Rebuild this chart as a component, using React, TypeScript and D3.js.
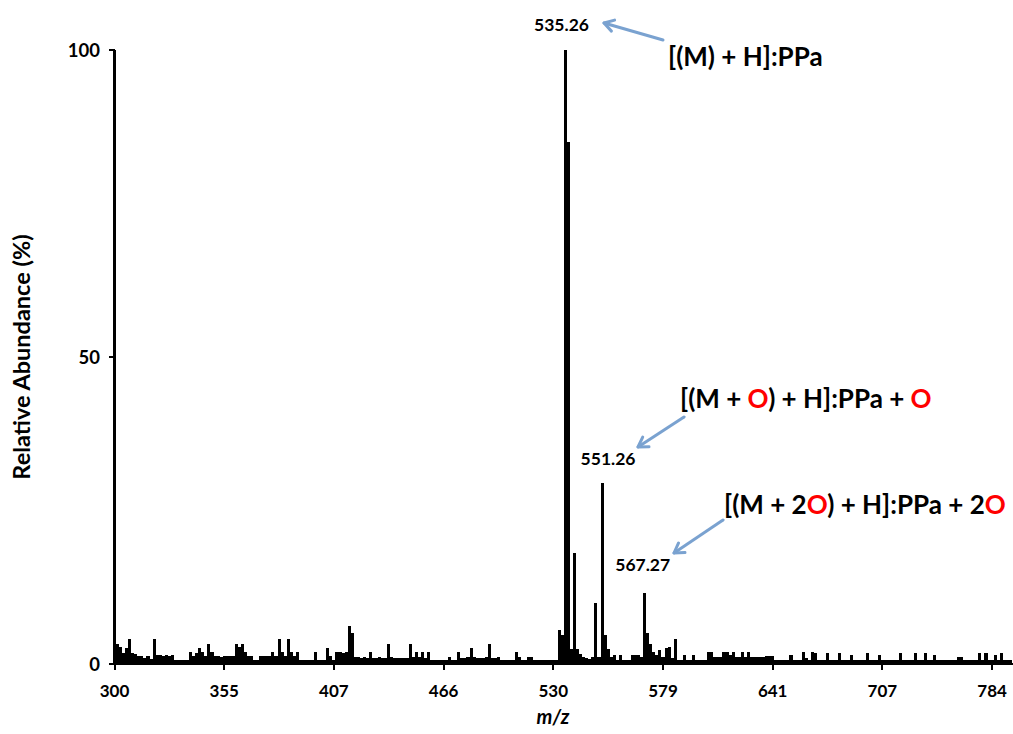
import React from 'react';
import * as d3 from 'd3';

// Relative abundance (%) per category (m/z channel)
const abundance: number[] = [
  100, 3.3, 2.8, 1.8, 2.6, 4.0, 1.8, 1.6, 1.3, 1.3,
  1.0, 1.3, 0.8, 4.0, 1.4, 1.4, 1.3, 1.4, 1.3, 1.4,
  0.6, 0.6, 0.6, 0.6, 0.6, 2.0, 1.3, 1.8, 2.6, 2.0,
  1.3, 3.3, 2.0, 1.3, 1.3, 1.1, 1.3, 1.3, 1.3, 1.3,
  3.3, 2.8, 3.3, 2.0, 1.3, 1.3, 0.6, 0.6, 1.3, 1.3,
  1.3, 1.3, 2.0, 1.3, 4.0, 2.0, 1.3, 4.0, 2.0, 1.3,
  2.0, 0.6, 0.6, 0.6, 0.6, 0.6, 2.0, 0.6, 0.6, 0.6,
  2.6, 1.3, 0.6, 2.0, 2.0, 1.8, 2.0, 6.2, 5.0, 1.2,
  1.2, 1.0, 1.2, 1.0, 2.0, 1.0, 1.0, 1.2, 1.0, 1.0,
  3.3, 1.2, 1.0, 1.0, 1.0, 1.0, 1.0, 3.3, 1.2, 2.0,
  1.2, 2.0, 1.0, 2.0, 0.6, 0.6, 0.6, 0.6, 0.6, 0.6,
  1.2, 0.6, 0.6, 2.0, 1.0, 1.0, 1.2, 2.6, 1.2, 1.0,
  1.0, 1.0, 1.2, 3.3, 1.0, 1.0, 1.2, 0.6, 0.6, 0.6,
  0.6, 0.6, 2.0, 1.2, 0.6, 0.6, 1.2, 1.2, 0.6, 0.6,
  0.6, 0.6, 0.6, 0.6, 0.6, 0.6, 5.5, 4.7, 100, 85,
  2.5, 18, 2.4, 1.7, 1.1, 1.0, 0.8, 1.2, 10, 1.2,
  29.5, 4.7, 2.5, 1.1, 1.5, 0.6, 1.5, 0.6, 0.6, 0.6,
  1.5, 1.5, 1.5, 1.2, 11.5, 5.0, 3.2, 2.0, 1.5, 2.2,
  1.1, 2.6, 2.8, 1.0, 4.1, 0.7, 0.6, 1.5, 0.6, 0.6,
  1.5, 0.6, 0.6, 0.6, 0.6, 2.0, 2.0, 1.1, 1.1, 1.1,
  2.0, 2.0, 1.5, 2.0, 1.1, 1.1, 2.0, 1.1, 2.0, 1.1,
  1.1, 1.1, 1.1, 1.1, 1.3, 1.3, 1.3, 0.6, 0.6, 0.6,
  0.6, 0.6, 1.5, 0.6, 0.6, 0.6, 2.0, 1.0, 0.6, 2.0,
  1.8, 0.6, 0.6, 0.6, 1.8, 0.6, 0.6, 0.6, 1.8, 0.6,
  0.6, 0.6, 1.5, 0.6, 0.6, 0.6, 0.6, 1.8, 0.6, 0.6,
  0.6, 1.5, 0.6, 0.6, 0.6, 0.6, 0.6, 0.6, 1.8, 0.6,
  0.6, 0.6, 0.6, 1.8, 0.6, 0.6, 1.8, 0.6, 0.6, 1.5,
  0.6, 0.6, 0.6, 0.6, 0.6, 0.6, 0.6, 1.2, 1.2, 0.6,
  0.6, 0.6, 0.6, 0.6, 1.8, 0.6, 1.8, 0.6, 0.6, 1.5,
  0.6, 1.8, 0.6, 0.6, 0.6,
];

// m/z tick labels, one every `categoriesPerTick` categories
const tickLabels: string[] = ['300', '355', '407', '466', '530', '579', '641', '707', '784'];
const categoriesPerTick = 36;

const yTicks: number[] = [0, 50, 100];

// Peak annotations (category index of the labelled peak)
const peakText: string[] = ['535.26', '551.26', '567.27'];
const peakIndex: number[] = [148, 160, 174];

const W = 1013;
const H = 734;
const FONT = 'Lato, "Open Sans", "DejaVu Sans", sans-serif';

export default function App() {
  const step = 109.7 / categoriesPerTick;
  const x0 = 114.5;
  const x = d3
    .scaleBand<number>()
    .domain(d3.range(abundance.length))
    .range([x0 - step / 2, x0 - step / 2 + step * abundance.length])
    .paddingInner(0)
    .paddingOuter(0);
  const y = d3.scaleLinear().domain([0, 100]).range([664, 50]);
  const bw = x.bandwidth();
  const cx = (i: number) => (x(i) as number) + bw / 2;

  const arrowColor = '#7AA2D0';
  const arrows: [number, number, number, number][] = [
    [663, 40, 604, 23],
    [684, 417, 638, 447],
    [723, 520, 674, 553],
  ];
  const head = (x1: number, y1: number, x2: number, y2: number) => {
    const a = Math.atan2(y2 - y1, x2 - x1);
    const L = 11;
    const s = 0.55;
    const p1 = [x2 - L * Math.cos(a - s), y2 - L * Math.sin(a - s)];
    const p2 = [x2 - L * Math.cos(a + s), y2 - L * Math.sin(a + s)];
    return `M${p1[0]},${p1[1]} L${x2},${y2} L${p2[0]},${p2[1]}`;
  };

  const peakDx = [-4, 6, -2];
  const peakDy = [-19, -18, -22];

  return (
    <svg
      width={W}
      height={H}
      style={{ position: 'absolute', left: 0, top: 0, background: '#fff' }}
      fontFamily={FONT}
    >
      <rect width={W} height={H} fill="#fff" />
      {/* bars */}
      <g shapeRendering="crispEdges">
        {abundance.map((v, i) => (
          <rect key={i} x={x(i)} y={y(v)} width={bw} height={y(0) - y(v)} fill="#000" />
        ))}
      </g>
      {/* axes */}
      <g stroke="#000" shapeRendering="crispEdges">
        <line x1={x0} x2={W} y1={664} y2={664} strokeWidth={2.5} />
        <line x1={x0} x2={x0} y1={y(100)} y2={665} strokeWidth={2} />
        {yTicks.map((t) => (
          <line key={t} x1={x0 - 6} x2={x0} y1={y(t)} y2={y(t)} strokeWidth={2} />
        ))}
        {tickLabels.map((_, k) => (
          <line key={k} x1={cx(k * categoriesPerTick)} x2={cx(k * categoriesPerTick)} y1={664} y2={670} strokeWidth={2} />
        ))}
      </g>
      {yTicks.map((t) => (
        <text key={t} x={100} y={y(t) + 6.5} textAnchor="end" fontSize={18.5} fontWeight="bold">
          {t}
        </text>
      ))}
      {tickLabels.map((l, k) => (
        <text key={l} x={cx(k * categoriesPerTick)} y={697} textAnchor="middle" fontSize={17} fontWeight="bold">
          {l}
        </text>
      ))}
      <text x={553} y={724} textAnchor="middle" fontSize={20} fontWeight="bold" fontStyle="italic">
        m/z
      </text>
      <text
        transform={`translate(30,357) rotate(-90)`}
        textAnchor="middle"
        fontSize={23.5}
        fontWeight="bold"
      >
        Relative Abundance (%)
      </text>
      {/* peak labels */}
      {peakText.map((t, k) => (
        <text
          key={t}
          x={cx(peakIndex[k]) + peakDx[k]}
          y={y(abundance[peakIndex[k]]) + peakDy[k]}
          textAnchor="middle"
          fontSize={17.5}
          fontWeight="bold"
        >
          {t}
        </text>
      ))}
      {/* arrows */}
      <g stroke={arrowColor} strokeWidth={3} fill="none" strokeLinecap="round" strokeLinejoin="round">
        {arrows.map((a, k) => (
          <g key={k}>
            <line x1={a[0]} y1={a[1]} x2={a[2]} y2={a[3]} />
            <path d={head(a[0], a[1], a[2], a[3])} />
          </g>
        ))}
      </g>
      {/* ion labels */}
      <g fontSize={26} fontWeight="bold">
        <text x={668} y={66}>[(M) + H]:PPa</text>
        <text x={680} y={408}>
          [(M + <tspan fill="#FF0000">O</tspan>) + H]:PPa + <tspan fill="#FF0000">O</tspan>
        </text>
        <text x={724} y={514}>
          [(M + 2<tspan fill="#FF0000">O</tspan>) + H]:PPa + 2<tspan fill="#FF0000">O</tspan>
        </text>
      </g>
    </svg>
  );
}
